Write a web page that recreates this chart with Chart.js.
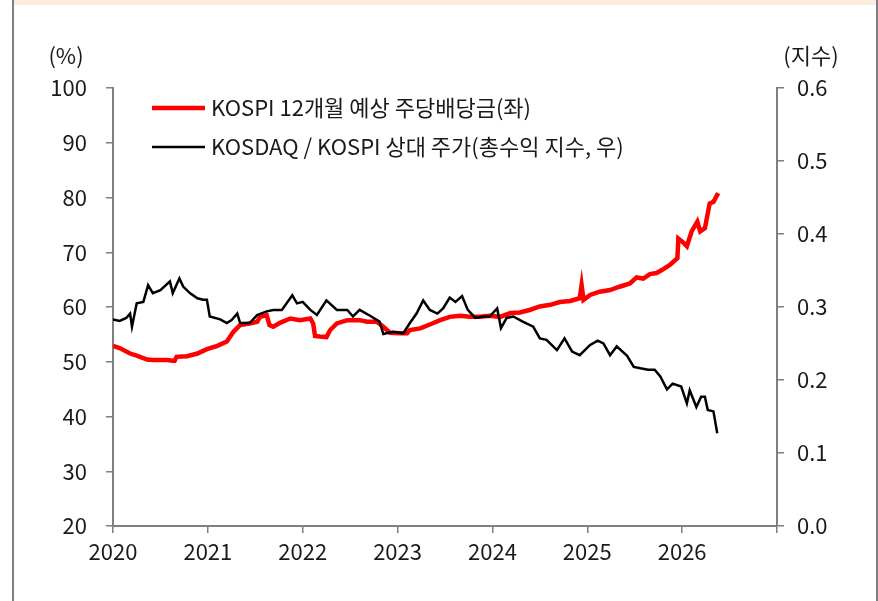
<!DOCTYPE html>
<html>
<head>
<meta charset="utf-8">
<script src="https://cdn.jsdelivr.net/npm/chart.js@4/dist/chart.umd.min.js"></script>
<style>
  html, body { margin: 0; padding: 0; background: #fff; }
  #wrap { position: relative; width: 878px; height: 601px; overflow: hidden; }
  #band { position: absolute; left: 14px; top: 0; width: 862px; height: 5px; background: #fdeddf; }
  #lborder { position: absolute; left: 12px; top: 0; width: 2px; height: 601px; background: #7f7f7f; }
  #rborder { position: absolute; left: 876px; top: 0; width: 2px; height: 601px; background: #7f7f7f; }
  canvas { position: absolute; left: 0; top: 0; }
</style>
</head>
<body>
<div id="wrap">
  <div id="band"></div>
  <div id="lborder"></div>
  <div id="rborder"></div>
  <canvas id="chart" width="878" height="601"></canvas>
</div>
<script>
// KOSPI 12M forward DPS (left axis, %)
const dpsDates = [2020.00, 2020.07, 2020.18, 2020.25, 2020.36, 2020.42, 2020.57, 2020.63, 2020.65, 2020.67,
  2020.78, 2020.89, 2020.99, 2021.10, 2021.20, 2021.27, 2021.34, 2021.44, 2021.52, 2021.55,
  2021.62, 2021.65, 2021.69, 2021.76, 2021.87, 2021.97, 2022.08, 2022.11, 2022.13, 2022.18,
  2022.25, 2022.29, 2022.36, 2022.47, 2022.60, 2022.68, 2022.78, 2022.85, 2022.92, 2023.03,
  2023.10, 2023.13, 2023.24, 2023.34, 2023.45, 2023.55, 2023.66, 2023.76, 2023.87, 2023.97,
  2024.08, 2024.19, 2024.29, 2024.40, 2024.50, 2024.61, 2024.71, 2024.82, 2024.92, 2024.94,
  2024.96, 2025.03, 2025.13, 2025.24, 2025.34, 2025.45, 2025.52, 2025.59, 2025.66, 2025.73,
  2025.79, 2025.87, 2025.95, 2025.96, 2026.01, 2026.05, 2026.10, 2026.16, 2026.19, 2026.24,
  2026.29, 2026.33, 2026.38];
const dpsValues = [52.9, 52.5, 51.5, 51.1, 50.4, 50.3, 50.3, 50.2, 50.2, 50.9,
  51.0, 51.5, 52.3, 52.9, 53.7, 55.5, 56.7, 57.0, 57.3, 58.2,
  58.5, 56.7, 56.4, 57.1, 57.9, 57.6, 57.9, 57.0, 54.7, 54.6,
  54.5, 55.8, 57.0, 57.6, 57.6, 57.3, 57.3, 56.4, 55.3, 55.2,
  55.2, 55.8, 56.1, 56.8, 57.6, 58.2, 58.4, 58.2, 58.2, 58.4,
  58.2, 58.9, 59.0, 59.5, 60.1, 60.4, 60.9, 61.1, 61.6, 64.0,
  61.3, 62.2, 62.8, 63.1, 63.7, 64.3, 65.4, 65.2, 66.0, 66.2,
  66.8, 67.7, 68.9, 72.5, 71.8, 71.1, 73.8, 75.6, 73.8, 74.4,
  78.9, 79.2, 80.8];

// KOSDAQ / KOSPI relative total return index (right axis)
const relDates = [2020.00, 2020.07, 2020.14, 2020.18, 2020.20, 2020.25, 2020.32, 2020.37, 2020.42, 2020.50,
  2020.60, 2020.63, 2020.70, 2020.74, 2020.81, 2020.89, 2020.95, 2020.99, 2021.02, 2021.13,
  2021.20, 2021.25, 2021.31, 2021.34, 2021.44, 2021.52, 2021.62, 2021.69, 2021.78, 2021.89,
  2021.94, 2022.00, 2022.08, 2022.15, 2022.25, 2022.36, 2022.47, 2022.53, 2022.60, 2022.71,
  2022.81, 2022.85, 2022.95, 2023.06, 2023.13, 2023.20, 2023.27, 2023.34, 2023.42, 2023.48,
  2023.55, 2023.61, 2023.68, 2023.74, 2023.82, 2023.90, 2023.97, 2024.05, 2024.09, 2024.15,
  2024.22, 2024.32, 2024.43, 2024.50, 2024.57, 2024.68, 2024.76, 2024.84, 2024.92, 2025.03,
  2025.11, 2025.17, 2025.24, 2025.31, 2025.42, 2025.49, 2025.56, 2025.64, 2025.71, 2025.77,
  2025.84, 2025.90, 2025.99, 2026.05, 2026.08, 2026.15, 2026.20, 2026.24, 2026.27, 2026.33,
  2026.37];
const relValues = [0.283, 0.281, 0.285, 0.291, 0.273, 0.305, 0.307, 0.330, 0.319, 0.323,
  0.335, 0.319, 0.339, 0.328, 0.319, 0.312, 0.310, 0.310, 0.287, 0.283,
  0.278, 0.282, 0.291, 0.278, 0.278, 0.289, 0.294, 0.296, 0.296, 0.316,
  0.305, 0.307, 0.296, 0.289, 0.309, 0.296, 0.296, 0.287, 0.296, 0.288,
  0.280, 0.263, 0.266, 0.264, 0.278, 0.291, 0.309, 0.296, 0.291, 0.298,
  0.313, 0.307, 0.315, 0.296, 0.285, 0.287, 0.287, 0.298, 0.271, 0.285,
  0.287, 0.280, 0.273, 0.257, 0.255, 0.241, 0.257, 0.239, 0.234, 0.248,
  0.254, 0.250, 0.234, 0.246, 0.233, 0.218, 0.216, 0.214, 0.214, 0.205,
  0.187, 0.195, 0.191, 0.168, 0.186, 0.163, 0.177, 0.177, 0.159, 0.157,
  0.127];

const seriesNames = ["KOSPI 12개월 예상 주당배당금(좌)", "KOSDAQ / KOSPI 상대 주가(총수익 지수, 우)"];
const seriesColors = ["#ff0000", "#000000"];
const leftUnit = "(%)";
const rightUnit = "(지수)";

const FONT = "'Noto Sans CJK KR', 'Noto Sans', sans-serif";
const TEXT = "#1a1a1a";
const AXIS = "#7f7f7f";

Chart.defaults.font.family = FONT;
Chart.defaults.color = TEXT;

const toXY = (xs, ys) => xs.map((x, i) => ({ x: x, y: ys[i] }));

// legend and axis units drawn inside the plot
const overlay = {
  id: "overlay",
  afterDraw(chart) {
    const ctx = chart.ctx;
    ctx.save();
    ctx.fillStyle = TEXT;
    ctx.font = "22px " + FONT;
    ctx.textBaseline = "middle";
    ctx.textAlign = "center";
    ctx.fillText(leftUnit, 66, 56);
    ctx.fillText(rightUnit, 811, 56);

    ctx.textAlign = "left";
    const rows = [108, 147];
    const widths = [4.5, 2.5];
    rows.forEach((y, i) => {
      ctx.strokeStyle = seriesColors[i];
      ctx.lineWidth = widths[i];
      ctx.beginPath();
      ctx.moveTo(152, y);
      ctx.lineTo(205, y);
      ctx.stroke();
      ctx.fillText(seriesNames[i], 211, y);
    });
    ctx.restore();
  }
};

new Chart(document.getElementById("chart"), {
  type: "line",
  data: {
    datasets: [
      {
        label: seriesNames[1],
        data: toXY(relDates, relValues),
        yAxisID: "y1",
        borderColor: seriesColors[1],
        borderWidth: 2.5,
        pointRadius: 0,
        tension: 0,
      },
      {
        label: seriesNames[0],
        data: toXY(dpsDates, dpsValues),
        yAxisID: "y",
        borderColor: seriesColors[0],
        borderWidth: 4.5,
        pointRadius: 0,
        tension: 0,
      },
    ],
  },
  options: {
    responsive: false,
    animation: false,
    layout: { padding: { top: 88, left: 0, right: 0, bottom: 0 } },
    plugins: {
      legend: { display: false },
      tooltip: { enabled: false },
    },
    scales: {
      x: {
        type: "linear",
        min: 2020,
        max: 2027,
        afterFit: (s) => { s.height = 75; },
        ticks: {
          stepSize: 1,
          padding: 5,
          font: { size: 22 },
          color: TEXT,
          maxRotation: 0,
          callback: (v) => (v >= 2027 ? "" : String(v)),
        },
        grid: { drawOnChartArea: false, tickLength: 7, color: AXIS, lineWidth: 1.5 },
        border: { color: AXIS, width: 2 },
      },
      y: {
        position: "left",
        min: 20,
        max: 100,
        afterFit: (s) => { s.width = 113; },
        ticks: { stepSize: 10, padding: 19, font: { size: 22 }, color: TEXT },
        grid: { drawOnChartArea: false, tickLength: 7, color: AXIS, lineWidth: 1.5 },
        border: { color: AXIS, width: 2 },
      },
      y1: {
        position: "right",
        min: 0,
        max: 0.6,
        afterFit: (s) => { s.width = 101; },
        ticks: {
          stepSize: 0.1,
          padding: 13,
          font: { size: 22 },
          color: TEXT,
          callback: (v) => v.toFixed(1),
        },
        grid: { drawOnChartArea: false, tickLength: 7, color: AXIS, lineWidth: 1.5 },
        border: { color: AXIS, width: 2 },
      },
    },
  },
  plugins: [overlay],
});
</script>
</body>
</html>
